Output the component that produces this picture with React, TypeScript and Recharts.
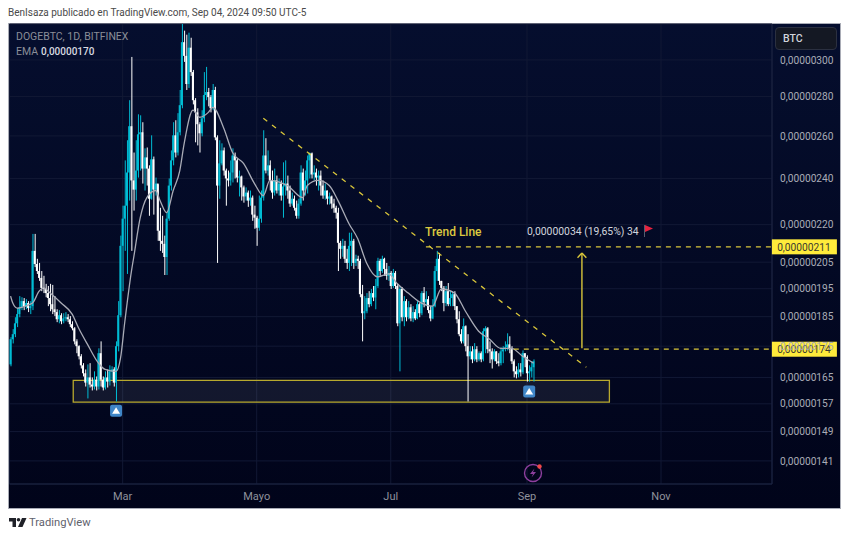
import React from 'react'
import {
  ComposedChart, Bar, Line, XAxis, YAxis, CartesianGrid,
  ReferenceLine, ReferenceArea, ReferenceDot,
} from 'recharts'

// prices are in units of 0.00000001 BTC, one candle per day from 10 Jan 2024
const firstOpen = 169.1
const closes = [
  177.3, 179, 182.7, 185.9, 188.3, 190.5, 188.7, 189.8, 188, 188.7, 209.4, 204.3, 201.6, 199, 195.3, 194.9, 193.4, 191.6, 189.4, 187.6,
  186.6, 184.1, 185.5, 183.4, 184.4, 184.8, 184.1, 182.4, 181, 176.6, 175, 171.7, 168.8, 166.3, 163.4, 165, 162.8, 162.2, 164.3, 162.2,
  172.7, 164.3, 161.9, 165, 163.7, 166.9, 167.5, 163.4, 175, 185.5, 211.4, 222.5, 228, 242.7, 264.8, 239.1, 235, 243.6, 260.8, 261.8,
  244.5, 249.7, 244.5, 231, 248.8, 235, 237.7, 217.5, 213.4, 212.2, 207, 222.5, 236.8, 248.3, 260.3, 252, 261.8, 275.5, 310.2, 302.3,
  286.7, 307, 293.2, 278.1, 271.8, 265.8, 261.3, 268.8, 280.8, 282.4, 279.7, 273.9, 283.5, 259.3, 236.8, 246.9, 253, 243.6, 240, 239.1,
  242.7, 250.6, 248.3, 240.4, 240.9, 236, 232, 233.7, 230.2, 231.5, 224.2, 222.9, 218.7, 222.5, 231.5, 250.6, 243.6, 246, 239.1, 233.7,
  239.1, 234.6, 237.7, 232.4, 236.4, 237.7, 234.6, 228.9, 231, 227.1, 223.7, 228.9, 242.7, 234.6, 239.1, 248.3, 251.6, 241.8, 242.7, 240.4,
  241.3, 236.8, 232.4, 234.6, 231, 232, 228.9, 227.1, 225, 212.6, 210.2, 211.4, 206.3, 204.7, 211.4, 213.4, 204.7, 206.3, 205.5, 193,
  186.2, 186.9, 191.6, 189.4, 193.4, 191.8, 196, 205.5, 201.6, 206.3, 202.4, 199.8, 200.9, 196, 200.9, 196, 182.7, 194.9, 184.8, 190.5,
  184.8, 188.3, 184.4, 186.6, 184.4, 189.4, 186.2, 193.4, 190.1, 191.2, 187.3, 184.4, 188.7, 201.6, 206.3, 197.9, 195.3, 189.8, 194.1, 189.4,
  191.6, 193, 188.7, 184.1, 179, 176.6, 181.7, 175, 171.7, 173.3, 170.7, 174, 170.7, 172.7, 170.7, 180, 181, 174, 173.3, 170.7,
  173.3, 170.1, 169.5, 173.3, 174, 174.6, 175.6, 174, 170.1, 166.9, 166, 167.5, 166.6, 172.7, 171.4, 166.3, 166.9, 168.2, 170.1,
]
const highs = [
  178, 180.7, 184.8, 188, 192.3, 191.9, 191.6, 191.2, 190.5, 190.5, 216.2, 216.2, 206.3, 204.7, 201.6, 199.8, 196.8, 196, 196.8, 196.4,
  192.3, 187.6, 187.3, 186.2, 186.2, 186.6, 185.9, 185.2, 183.4, 181.4, 177.3, 175.3, 172.4, 169.5, 167.5, 169.1, 169.5, 165, 166.9, 165.3,
  174.3, 176.6, 165.3, 166.9, 167.5, 168.8, 168.5, 168.2, 176.6, 190.5, 215.5, 228, 248.3, 257.9, 278.1, 301.7, 252, 257.9, 270.8, 270.3,
  266.8, 254, 254.4, 246, 260.3, 250.1, 240.4, 237.3, 227.1, 223.7, 215.5, 225, 240, 253, 266.8, 267.8, 271.4, 283.5, 321.3, 317,
  314.6, 315.8, 312.8, 294.4, 279.2, 273.9, 266.8, 272.9, 293.2, 296.1, 284.6, 280.8, 286.7, 285.2, 260.3, 257.9, 256.4, 254.4, 244.5, 243.6,
  248.3, 254, 252, 249.2, 243.6, 241.3, 236.8, 236, 234.6, 234.6, 232.4, 228, 223.7, 232.4, 234.6, 262.8, 258.9, 253, 248.3, 243.6,
  244.5, 241.3, 240, 239.1, 247.4, 248.3, 241.3, 236.8, 233.7, 232.4, 230.2, 231, 246, 244.5, 243.6, 250.6, 252, 252, 246, 244.5,
  243.6, 243.6, 239.1, 237.7, 234.6, 233.7, 232.4, 231, 228, 227.1, 213.4, 214.2, 213.4, 210.2, 216.7, 216.7, 214.2, 207.9, 207.5, 206.3,
  196.4, 192.3, 193.4, 194.1, 194.9, 196, 198.6, 206.7, 206.3, 207.5, 206.7, 204.7, 203.5, 201.6, 202.4, 201.6, 196.8, 196, 195.6, 192.3,
  191.2, 190.5, 189.4, 188.7, 187.6, 190.5, 189.8, 194.1, 195.6, 194.1, 192.3, 188.7, 191.2, 203.5, 209.4, 208.6, 197.9, 196, 196, 197.1,
  194.1, 194.1, 194.1, 188.7, 186.9, 180.7, 184.4, 182, 179, 175, 175, 176, 175, 173.3, 173.3, 181, 181.7, 181.4, 176.6, 174.3,
  174, 173.3, 172.7, 174.6, 175, 176.6, 179.3, 178.3, 175, 170.7, 168.5, 169.5, 169.5, 173.6, 172.7, 172, 168.8, 170.1, 170.7,
]
const lows = [
  168.5, 175.9, 178, 181.4, 184.8, 187.3, 187.3, 187.6, 186.6, 185.9, 187.3, 203.1, 200.5, 197.9, 194.1, 193.4, 191.9, 188.7, 186.9, 185.9,
  185.2, 183.1, 182.7, 182.4, 182.7, 183.4, 183.1, 181.4, 180.3, 175.6, 172.7, 170.7, 167.8, 165.3, 162.2, 158.6, 161.9, 161, 161.3, 161,
  161.3, 162.2, 161, 161.3, 161.9, 162.5, 164.3, 162.2, 157.7, 173.3, 184.8, 194.1, 209.4, 200.5, 230.2, 209.4, 225.9, 230.2, 240.4, 243.6,
  237.7, 234.6, 236.8, 223.7, 230.6, 224.2, 232.4, 213.4, 209.4, 208.6, 200.1, 200.1, 221.6, 234.6, 246, 249.7, 250.6, 260.3, 273.9, 298.9,
  283.5, 284.6, 291.1, 275.9, 256.9, 255.4, 252, 259.8, 266.8, 278.1, 274.9, 271.8, 272.9, 257.9, 204.7, 231, 246, 241.3, 228, 236.4,
  236.8, 238.2, 240, 238.2, 232, 230.2, 229.3, 230.2, 227.5, 228, 221.6, 218.3, 211.4, 217.5, 220.8, 230.2, 242.3, 241.3, 234.6, 231,
  232.4, 233.3, 232.4, 230.2, 222.9, 232.4, 231, 227.5, 228, 225.9, 222.5, 222.5, 228, 230.2, 232.4, 233.3, 240, 240, 239.1, 236.8,
  234.6, 232.4, 231, 230.6, 228.5, 228.5, 226.7, 225, 222.5, 201.6, 206.3, 207.1, 204.7, 202.4, 201.6, 203.5, 202.4, 203.5, 202.4, 191.9,
  176.6, 184.1, 186.2, 188.3, 188.7, 190.5, 187.6, 195.3, 199.8, 200.9, 199.8, 198.3, 197.9, 194.9, 195.3, 194.9, 181.7, 166.9, 183.4, 181.7,
  183.4, 184.1, 183.4, 183.1, 183.8, 184.1, 184.8, 185.5, 188.3, 188.7, 186.2, 183.4, 184.1, 188.3, 197.9, 196.4, 194.1, 186.9, 188.7, 188.7,
  188.7, 188.7, 187.3, 182.7, 178.3, 175.9, 175.9, 173.3, 157.7, 170.7, 169.5, 170.1, 169.8, 170.1, 169.8, 170.1, 172.7, 172.7, 169.5, 167.8,
  170.1, 169.2, 168.5, 168.8, 169.5, 173.3, 173.6, 172.7, 169.2, 165, 164.7, 165, 165.3, 166, 168.2, 163.7, 163.7, 165, 163.7,
]

// EMA at these candles, the line joins them
const emaDays = [
  0, 1, 3, 5, 9, 10, 13, 15, 18, 23, 28, 31, 35, 40, 43, 48, 50, 52, 55, 56, 59, 62, 66, 68, 71, 74, 77, 79, 83, 86, 90, 92, 97, 101, 106, 111, 115, 118, 124, 126,
  133, 135, 140, 145, 149, 154, 158, 162, 167, 172, 176, 181, 187, 192, 196, 202, 207, 213, 218, 223, 228, 233, 238,
]
const emaValues = [
  192.3, 189.8, 188, 188.3, 189.4, 189.8, 194.1, 195.3, 193.4, 189.8, 185.9, 181, 175.6, 169.5, 167.5, 166.9, 171, 183.4, 201.6, 206.7, 222.9, 231.5, 234.6, 230.2, 225, 234.6, 243.6, 256.4, 272.9, 269.3, 271.8, 274.4, 263.8, 252, 246.9, 237.7, 232.4, 239.1, 237.7, 236.8,
  231.5, 236.8, 239.1, 236.8, 230.2, 220.4, 214.2, 204.7, 199.4, 200.5, 196.8, 193.4, 189.8, 188.7, 194.9, 193.4, 186.9, 180, 177.3, 174.3, 174.3, 171.7, 169.5,
]

const priceTicks = [300, 280, 260, 240, 220, 205, 195, 185, 175, 165, 157, 149, 141]
const monthTicks: Record<string, string> = {
  '2024-03-01': 'Mar',
  '2024-05-01': 'Mayo',
  '2024-07-01': 'Jul',
  '2024-09-01': 'Sep',
  '2024-11-01': 'Nov',
}
const dayCount = 347

const dates = Array.from({ length: dayCount }, (_, i) =>
  new Date(Date.UTC(2024, 0, 10 + i)).toISOString().slice(0, 10)
)

const data = dates.map((date, i) => {
  const row: any = { date }
  if (i < closes.length) {
    const open = i === 0 ? firstOpen : closes[i - 1]
    row.wick = [lows[i], highs[i]]
    row.body = [Math.min(open, closes[i]), Math.max(open, closes[i])]
    row.up = closes[i] >= open
  }
  const e = emaDays.indexOf(i)
  if (e >= 0) row.ema = emaValues[e]
  return row
})

const UP = '#00bcd4'
const DOWN = '#ffffff'
const GOLD = '#d9c63a'
const FONT = 'Roboto, sans-serif'
const lastDay = dates[dayCount - 1]

const fmtPrice = (v: number) => '0,' + String(Math.round(v)).padStart(8, '0')

const Candle = (p: any) => {
  if (!p.payload.wick || !p.height) return null
  return <rect x={p.x} y={p.y} width={p.width} height={p.height} fill={p.payload.up ? UP : DOWN} />
}

const PriceTag = ({ cx, cy, text }: any) => (
  <g>
    <rect x={cx + 1} y={cy - 7.5} width={65} height={15} fill="#ffeb3b" />
    <text x={cx + 33} y={cy + 3.8} textAnchor="middle" fontSize={10.2} fontFamily={FONT} fill="#3a3a30">{text}</text>
  </g>
)

const UpMarker = ({ cx, cy }: any) => (
  <g>
    <rect x={cx - 6} y={cy - 6} width={12} height={12} rx={2} fill="#3f86c8" />
    <path d={`M${cx - 4} ${cy + 3}L${cx} ${cy - 3.5}L${cx + 4} ${cy + 3}Z`} fill="#fff" />
  </g>
)

const text = (left: number, top: number, size: number, color: string, extra: any = {}) => ({
  position: 'absolute', left, top, fontSize: size, color, fontFamily: FONT, lineHeight: 1, whiteSpace: 'nowrap', ...extra,
}) as React.CSSProperties

export default function App() {
  return (
    <div style={{ position: 'absolute', left: 0, top: 0, width: 850, height: 539, background: '#fff', overflow: 'hidden' }}>
      <div style={text(8, 8, 10, '#4a4a4a')}>BenIsaza publicado en TradingView.com, Sep 04, 2024 09:50 UTC-5</div>

      <div style={{
        position: 'absolute', left: 9, top: 24, width: 831, height: 484,
        background: 'linear-gradient(#050e2e, #01041a)', boxShadow: '0 0 0 1px #a9acb6',
      }} />

      <div style={{ position: 'absolute', left: 0, top: 0 }}>
        <ComposedChart width={850} height={539} data={data} margin={{ top: 24, right: 10, bottom: 31, left: 9.5 }} barGap={0}>
          <CartesianGrid stroke="#121935" strokeWidth={1} />
          <XAxis
            dataKey="date"
            ticks={Object.keys(monthTicks)}
            interval={0}
            tickFormatter={(d) => monthTicks[d]}
            height={24}
            tick={{ fontSize: 11, fill: '#8f929c', fontFamily: FONT }}
            tickLine={false}
            axisLine={{ stroke: '#1d2442' }}
          />
          <XAxis xAxisId="wick" dataKey="date" hide />
          <YAxis
            orientation="right"
            type="number"
            scale="log"
            domain={[135, 321]}
            allowDataOverflow
            ticks={priceTicks}
            interval={0}
            tickFormatter={fmtPrice}
            width={68}
            tick={{ fontSize: 10.2, fill: '#a9acb6', fontFamily: FONT }}
            tickLine={false}
            axisLine={{ stroke: '#1d2442' }}
          />

          <ReferenceArea
            x1={dates[29]} x2={dates[272]} y1={157.5} y2={164.1}
            fill="#ffffff" fillOpacity={0.07} stroke="#b8a92e" strokeWidth={1.3} ifOverflow="visible"
          />

          <Bar xAxisId="wick" dataKey="wick" barSize={1} shape={<Candle />} isAnimationActive={false} />
          <Bar dataKey="body" barSize={2} shape={<Candle />} isAnimationActive={false} />
          <Line dataKey="ema" stroke="#a9abb6" strokeWidth={1.3} dot={false} connectNulls type="monotone" isAnimationActive={false} />

          {/* trend line */}
          <ReferenceLine segment={[{ x: dates[115], y: 268.8 }, { x: dates[262], y: 168.2 }]} stroke={GOLD} strokeWidth={1.3} strokeDasharray="5 6" ifOverflow="visible" />
          <ReferenceLine segment={[{ x: dates[189], y: 211 }, { x: lastDay, y: 211 }]} stroke={GOLD} strokeWidth={1.2} strokeDasharray="5 5" ifOverflow="visible" />
          <ReferenceLine segment={[{ x: dates[229], y: 174 }, { x: lastDay, y: 174 }]} stroke={GOLD} strokeWidth={1.2} strokeDasharray="5 5" ifOverflow="visible" />

          {/* arrow from 174 up to 211 */}
          <ReferenceLine segment={[{ x: dates[260], y: 174.3 }, { x: dates[260], y: 208.6 }]} stroke={GOLD} strokeWidth={1.4} ifOverflow="visible" />
          <ReferenceLine segment={[{ x: dates[258], y: 206.7 }, { x: dates[260], y: 208.6 }]} stroke={GOLD} strokeWidth={1.4} ifOverflow="visible" />
          <ReferenceLine segment={[{ x: dates[262], y: 206.7 }, { x: dates[260], y: 208.6 }]} stroke={GOLD} strokeWidth={1.4} ifOverflow="visible" />

          <ReferenceDot x={dates[48]} y={155} shape={<UpMarker />} ifOverflow="visible" />
          <ReferenceDot x={dates[236]} y={160.7} shape={<UpMarker />} ifOverflow="visible" />
          <ReferenceDot x={lastDay} y={211} shape={<PriceTag text={fmtPrice(211)} />} ifOverflow="visible" />
          <ReferenceDot x={lastDay} y={174} shape={<PriceTag text={fmtPrice(174)} />} ifOverflow="visible" />
        </ComposedChart>
      </div>

      <div style={text(16, 32, 10.5, '#8b8e98')}>DOGEBTC, 1D, BITFINEX</div>
      <div style={text(16, 47, 10.5, '#8b8e98')}>EMA</div>
      <div style={text(41, 47, 10, '#d8dae0', { fontWeight: 500 })}>0,00000170</div>

      <div style={text(425, 226, 12, '#dcc93f', { fontWeight: 500 })}>Trend Line</div>
      <div style={text(527, 227, 10.4, '#d1d4dc')}>0,00000034 (19,65%) 34</div>
      <svg style={{ position: 'absolute', left: 643, top: 224 }} width={12} height={14}>
        <path d="M1.5 1V13" stroke="#555b6e" strokeWidth={1} />
        <path d="M2 1L10 4.5L2 8Z" fill="#e5233f" />
      </svg>

      <div style={{
        position: 'absolute', left: 775, top: 27, width: 62, height: 23, boxSizing: 'border-box',
        background: '#141823', border: '1px solid #2b3040', borderRadius: 4,
      }} />
      <div style={text(783, 34, 10.5, '#d1d4dc', { fontWeight: 500 })}>BTC</div>

      <svg style={{ position: 'absolute', left: 522, top: 461 }} width={24} height={24}>
        <circle cx={11} cy={12} r={8.5} fill="none" stroke="#8d3f9e" strokeWidth={1.4} />
        <path d="M12.5 7.5L8 13H11L9.5 16.5L14 11H11Z" fill="#8d3f9e" />
        <circle cx={17.5} cy={5.5} r={2.2} fill="#f04848" />
      </svg>

      <svg style={{ position: 'absolute', left: 9, top: 518 }} width={18} height={10}>
        <path d="M0 0H7V9H3.5V3.5H0Z" fill="#1f2128" />
        <circle cx={9.5} cy={1.8} r={1.8} fill="#1f2128" />
        <path d="M13 0H17.5L13.5 9H9Z" fill="#1f2128" />
      </svg>
      <div style={text(29, 517, 11.2, '#5f626d')}>TradingView</div>
    </div>
  )
}
